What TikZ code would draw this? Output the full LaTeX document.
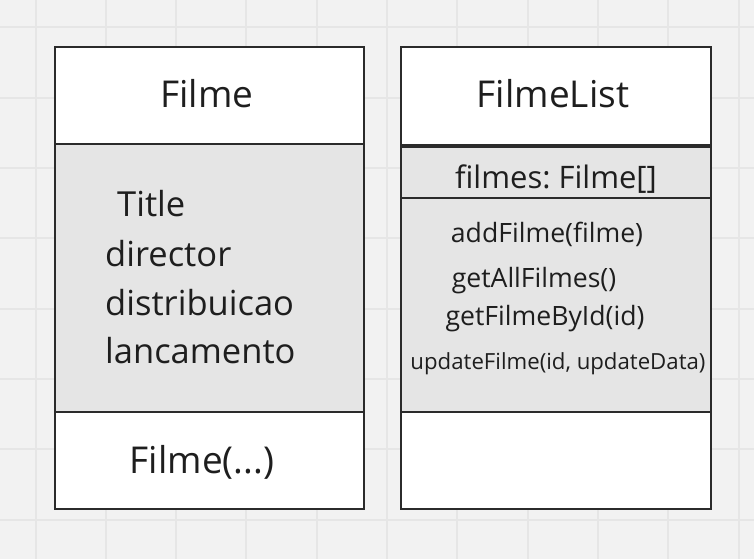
\documentclass[tikz,border=0pt]{standalone}
\usepackage{fontspec}
\setmainfont{Open Sans}
\frenchspacing
\definecolor{canvas}{HTML}{F2F2F2}
\definecolor{gridgray}{HTML}{E6E6E6}
\definecolor{partgray}{HTML}{E5E5E5}
\definecolor{inkgray}{HTML}{2B2B2B}
\definecolor{textgray}{HTML}{1E1E1E}
\begin{document}
\begin{tikzpicture}[
		x=1pt, y=-1pt,
		line join=miter
	]
	\tikzset{
		part/.style = {rectangle, draw=inkgray, line width=2pt, inner sep=0pt,
			anchor=north west, fill=white},
		grayp/.style = {part, fill=partgray},
		gridline/.style = {gridgray, line width=2pt},
		big/.style = {anchor=base, text=textgray, inner sep=0pt,
			font=\fontsize{37}{44}\selectfont},
		attr/.style = {anchor=base west, text=textgray, inner sep=0pt,
			font=\fontsize{34.5}{41}\selectfont},
		meth/.style = {anchor=base, text=textgray, inner sep=0pt,
			font=\fontsize{26.6}{32}\selectfont},
	}
	\useasboundingbox (0,0) rectangle (754,559);
	\fill[canvas] (0,0) rectangle (754,559);
	\foreach \gx in {0,...,10}
		\draw[gridline] (35.5+70.3*\gx,0) -- ++(0,559);
	\foreach \gy in {0,...,7}
		\draw[gridline] (0,27.5+70.3*\gy) -- ++(754,0);
	% class Filme
	\node[part, minimum width=309pt, minimum height=97pt] at (54,46) (fhead) {};
	\node[grayp, minimum width=309pt, minimum height=268pt] at (54,143) (fattr) {};
	\node[part, minimum width=309pt, minimum height=97pt] at (54,411) (fctor) {};
	\node[big] at (207,108) (fname) {Filme};
	\node[attr] at (117,216) (ftitle) {Title};
	\node[attr] at (105,266) (fdir) {director};
	\node[attr] at (105,315) (fdist) {distribuicao};
	\node[attr] at (105,363) (flanc) {lancamento};
	\node[big] at (202,473) (fcons) {Filme(...)};
	% class FilmeList
	\node[part, minimum width=310pt, minimum height=98pt] at (400,46) (lhead) {};
	\node[grayp, minimum width=310pt, minimum height=53pt] at (400,144) (lattr) {};
	\node[grayp, minimum width=310pt, minimum height=214pt] at (400,197) (lmeth) {};
	\node[part, minimum width=310pt, minimum height=97pt] at (400,411) (lctor) {};
	\draw[inkgray, line width=3pt] (lhead.south west) -- (lhead.south east);
	\node[big] at (553,108) (lname) {FilmeList};
	\node[meth, font=\fontsize{31}{37}\selectfont] at (556,188) (lfilmes) {filmes: Filme[]};
	\node[meth] at (547,242) (ladd) {addFilme(filme)};
	\node[meth] at (534,287) (lall) {getAllFilmes()};
	\node[meth] at (545,325) (lbyid) {getFilmeById(id)};
	\node[meth, font=\fontsize{22.2}{27}\selectfont] at (558,369) (lupd) {updateFilme(id, updateData)};
\end{tikzpicture}
\end{document}
